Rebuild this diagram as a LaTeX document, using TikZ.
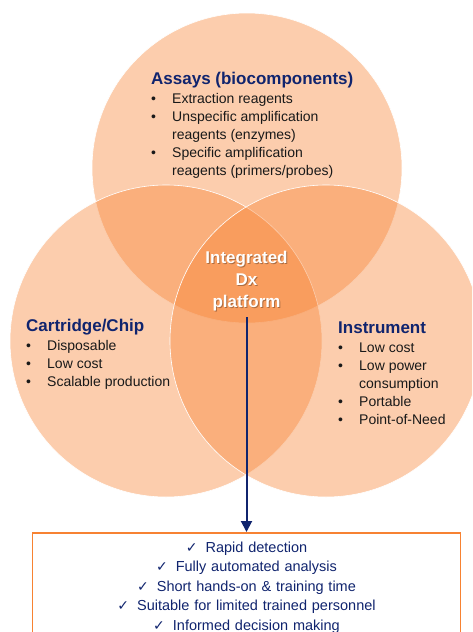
\documentclass[tikz,border=0pt]{standalone}
\usepackage{fontspec}
\setmainfont{Liberation Sans}
\newfontfamily\symbfont{DejaVu Sans}
\usetikzlibrary{positioning,arrows.meta}
\definecolor{dxorange}{RGB}{247,130,50}
\definecolor{dxnavy}{RGB}{16,36,110}
\definecolor{dxtext}{RGB}{25,25,25}
\newcommand{\chk}{{\symbfont\bfseries\fontsize{14}{14}\selectfont ✓}\hspace{8pt}}

\begin{document}
\begin{tikzpicture}[x=1pt, y=-1pt,
    venn/.style={circle, minimum size=310pt, inner sep=0pt, fill=dxorange,
                 fill opacity=0.4, draw=white, line width=0.6pt},
    head/.style={font=\fontsize{17}{20}\selectfont\bfseries, text=dxnavy,
                 inner sep=0pt, anchor=base west},
    items/.style={font=\fontsize{14}{18}\selectfont, text=dxtext, inner sep=0pt},
    dxlabel/.style={align=center, font=\fontsize{17}{22}\selectfont\bfseries, text=white},
    goalbox/.style={anchor=north, draw=dxorange, line width=1.8pt, text width=420pt,
                    inner xsep=4pt, inner ysep=9pt, align=center,
                    font=\fontsize{14.5}{19.4}\selectfont, text=dxnavy},
    flow/.style={-{Triangle[length=11pt,width=11pt]}, line width=2pt, draw=dxnavy}]
  \useasboundingbox (0,0) rectangle (472,632);
  \clip (0,0) rectangle (472,632);

  % the three circles
  \node[venn]                       (assays) at (247,168) {};
  \node[venn, minimum size=312pt]   (chip)   at (166,341) {};
  \node[venn, minimum size=312pt]   (instr)  at (326,341) {};

  % assays
  \node[head] (assayhead) at (151,84) {Assays (biocomponents)};
  \node[items, below=6.4pt of assayhead.base west, anchor=north west] (assaylist)
    {\begin{tabular}{@{}p{21pt}@{}l@{}}
      \textbullet & Extraction reagents\\
      \textbullet & Unspecific amplification\\
                  & reagents (enzymes)\\
      \textbullet & Specific amplification\\
                  & reagents (primers/probes)
    \end{tabular}};

  % cartridge
  \node[head] (chiphead) at (26,331) {Cartridge/Chip};
  \node[items, below=6.4pt of chiphead.base west, anchor=north west] (chiplist)
    {\begin{tabular}{@{}p{21pt}@{}l@{}}
      \textbullet & Disposable\\
      \textbullet & Low cost\\
      \textbullet & Scalable production
    \end{tabular}};

  % instrument
  \node[head] (instrhead) at (338,333) {Instrument};
  \node[items, below=6.4pt of instrhead.base west, anchor=north west] (instrlist)
    {\begin{tabular}{@{}p{21pt}@{}l@{}}
      \textbullet & Low cost\\
      \textbullet & Low power\\
                  & consumption\\
      \textbullet & Portable\\
      \textbullet & Point-of-Need
    \end{tabular}};

  % centre
  \node[dxlabel, text=black, text opacity=0.3] (dxshade) at (247.5,282) {Integrated\\Dx\\platform};
  \node[dxlabel] (dx) at (246.5,281) {Integrated\\Dx\\platform};

  % outcome
  \node[goalbox] (goals) at (246.5,532)
    {\chk Rapid detection\\
     \chk Fully automated analysis\\
     \chk Short hands-on \& training time\\
     \chk Suitable for limited trained personnel\\
     \chk Informed decision making};

  \draw[flow] ([yshift=-3pt]dx.south) -- (goals.north);
\end{tikzpicture}
\end{document}
